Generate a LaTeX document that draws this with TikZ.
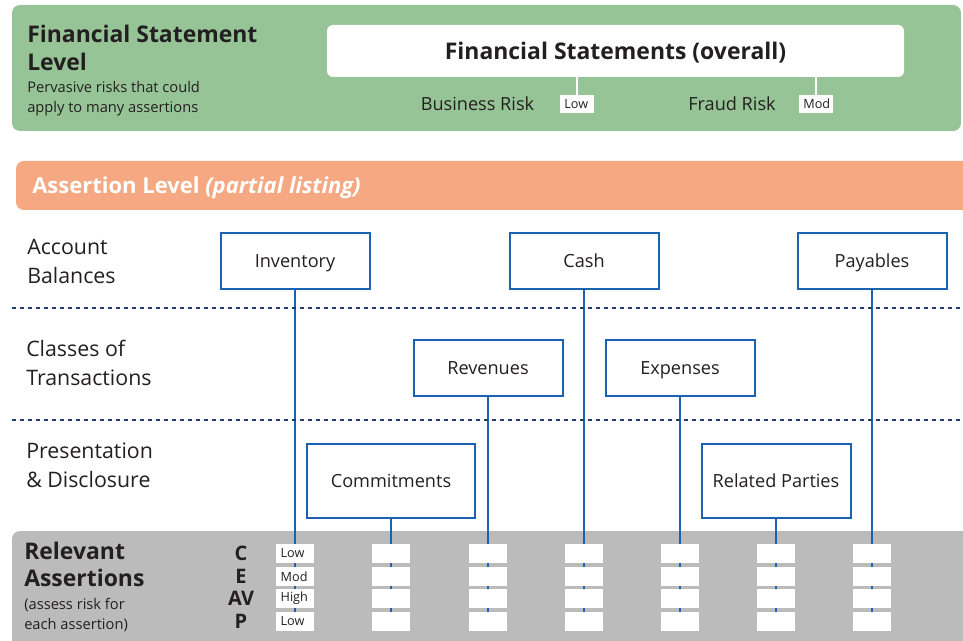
\documentclass[tikz,border=0pt]{standalone}
\usepackage{fontspec}
\setmainfont{Open Sans}
\usepackage{tikz}
\usetikzlibrary{positioning}
\definecolor{fsgreen}{HTML}{97C497}
\definecolor{alorange}{HTML}{F5A881}
\definecolor{ragrey}{HTML}{BBBBBB}
\definecolor{boxblue}{HTML}{1B63B0}
\definecolor{dotnavy}{HTML}{1F3A66}
\definecolor{ink}{HTML}{231F20}
\pgfdeclarelayer{back}
\pgfdeclarelayer{wires}
\pgfsetlayers{back,wires,main}
\tikzset{acct/.style = {draw = boxblue, line width = 1.5pt, fill = white,
                        minimum width = 111.75pt, minimum height = 42pt,
                        text height = 9.7pt, text depth = 0pt,
                        font = \fontsize{13.6}{16}\selectfont, text = ink}}
\tikzset{riskbox/.style = {fill = white, inner xsep = 3.5pt, inner ysep = 0,
                           text width = 21.5pt, align = left,
                           minimum height = 14.25pt,
                           font = \fontsize{9.5}{11}\selectfont, text = ink}}
\tikzset{risklabel/.style = {text = ink, text height = 9.7pt, text depth = 0pt,
                             font = \fontsize{13.6}{16}\selectfont}}
\tikzset{wire/.style = {boxblue, line width = 1.5pt}}
\tikzset{rowlabel/.style = {anchor = west, align = left, inner sep = 0,
                            font = \fontsize{16}{21.75}\selectfont, text = ink}}
\tikzset{rowline/.style = {dotnavy, line width = 1.5pt, dash pattern = on 3pt off 3pt}}

\begin{document}
\begin{tikzpicture}[x = 0.75pt, y = -0.75pt]
    \useasboundingbox (0, 0) rectangle (963, 641);
    \clip (0, 0) rectangle (963, 641);
    % financial statement level
    \fill [fsgreen, rounded corners = 6pt] (12, 5) rectangle (961, 131);
    \node [rowlabel, font = \fontsize{17.2}{20.5}\selectfont\bfseries] (fstitle) at (27, 48)
        {Financial Statement\\Level};
    \node [rowlabel, font = \fontsize{11}{15}\selectfont] (fssub) at (27, 99)
        {Pervasive risks that could\\apply to many assertions};
    \node [fill = white, rounded corners = 4.5pt, minimum width = 432.75pt,
           minimum height = 39pt, text = ink, text height = 12.3pt, text depth = 0pt,
           font = \fontsize{17.2}{20}\selectfont\bfseries] (fs) at (615.5, 51)
        {Financial Statements (overall)};
    \node [risklabel] (busrisk) at (477.5, 104.5) {Business Risk};
    \node [risklabel] (fraudrisk) at (732, 104.5) {Fraud Risk};
    \node [riskbox, text width = 19pt, minimum height = 13.5pt] (bustag) at (577, 104) {Low};
    \node [riskbox, text width = 19pt, minimum height = 13.5pt] (fraudtag) at (816, 104) {Mod};
    \draw [white, line width = 0.8pt] (fs.south -| bustag.north) -- (bustag.north);
    \draw [white, line width = 0.8pt] (fs.south -| fraudtag.north) -- (fraudtag.north);

    % assertion level
    \fill [alorange, rounded corners = 6pt] (16, 161) rectangle (980, 210);
    \node [anchor = west, inner sep = 0, text = white, text height = 11.8pt, text depth = 0pt,
           font = \fontsize{16.5}{19}\selectfont\bfseries] (altitle) at (32, 186)
        {Assertion Level \textit{(partial listing)}};

    \node [rowlabel] (balances) at (27, 261) {Account\\Balances};
    \node [rowlabel] (classes) at (26, 363) {Classes of\\Transactions};
    \node [rowlabel] (disclosure) at (26, 465) {Presentation\\\& Disclosure};
    \draw [rowline] (12, 308) -- (963, 308);
    \draw [rowline] (12, 420) -- (963, 420);

    \node [acct] (inventory) at (295, 261) {Inventory};
    \node [acct] (cash) at (584, 261) {Cash};
    \node [acct] (payables) at (872, 261) {Payables};
    \node [acct] (revenues) at (488, 368) {Revenues};
    \node [acct] (expenses) at (680, 368) {Expenses};
    \node [acct, minimum width = 126pt, minimum height = 55.5pt] (commitments) at (391, 481) {Commitments};
    \node [acct, minimum height = 55.5pt] (related) at (776, 481) {Related Parties};

    % relevant assertions
    \begin{pgfonlayer}{back}
        \fill [ragrey, rounded corners = 6pt] (12, 531) rectangle (990, 660);
    \end{pgfonlayer}
    \node [rowlabel, font = \fontsize{17.2}{20}\selectfont\bfseries] (ratitle) at (24, 564.5)
        {Relevant\\Assertions};
    \node [rowlabel, font = \fontsize{11}{15}\selectfont] (rasub) at (24, 615)
        {(assess risk for\\each assertion)};
    \foreach \ltr/\yy/\k in {C/553.5/1, E/576.5/2, AV/598.5/3, P/621.5/4}
        \node [text = ink, text height = 10.5pt, text depth = 0pt,
               font = \fontsize{15}{17}\selectfont\bfseries] (ltr-\k) at (241, \yy) {\ltr};
    \foreach \col/\xx/\src in {inv/295/inventory, com/391/commitments, rev/488/revenues,
                               cash/584/cash, exp/680/expenses, rel/776/related, pay/872/payables} {
        \node [riskbox] (\col-1) at (\xx, 553.5) {};
        \node [riskbox] (\col-2) at (\xx, 576.5) {};
        \node [riskbox] (\col-3) at (\xx, 598.5) {};
        \node [riskbox] (\col-4) at (\xx, 621.5) {};
        \begin{pgfonlayer}{wires}
            \draw [wire] (\src.south) -- (\col-4.south);
        \end{pgfonlayer}
    }
    \node [riskbox] at (inv-1) {Low};
    \node [riskbox] at (inv-2) {Mod};
    \node [riskbox] at (inv-3) {High};
    \node [riskbox] at (inv-4) {Low};
\end{tikzpicture}
\end{document}
